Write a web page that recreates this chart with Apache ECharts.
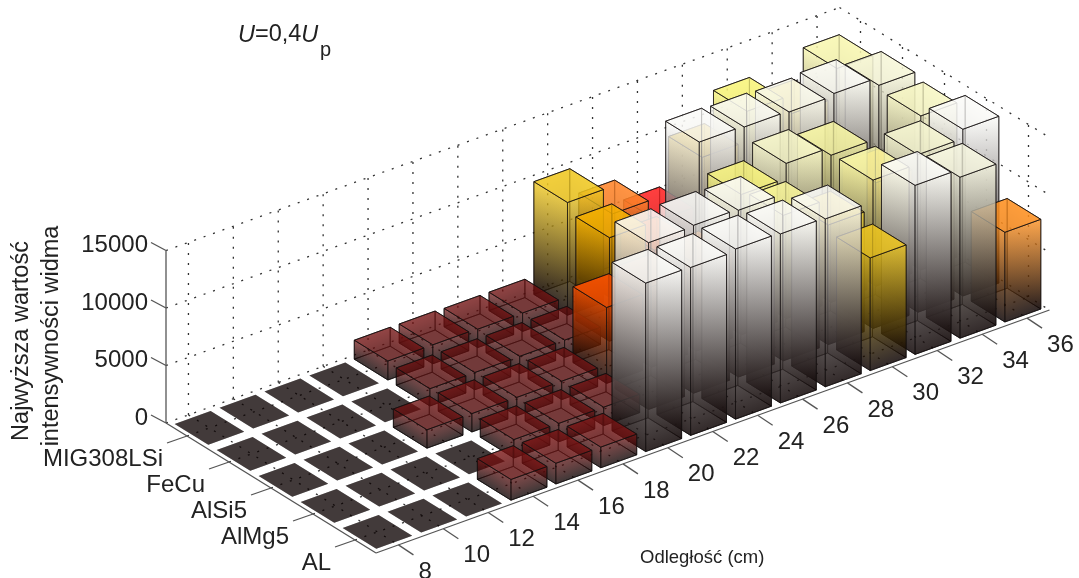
<!DOCTYPE html>
<html>
<head>
<meta charset="utf-8">
<style>
  html, body { margin: 0; padding: 0; background: #fff; }
  #chart { width: 1079px; height: 578px; }
</style>
<script src="https://cdn.jsdelivr.net/npm/echarts@6/dist/echarts.min.js"></script>
</head>
<body>
<div id="chart"></div>
<script>
const distances = [ 8, 10, 12, 14, 16, 18, 20, 22, 24, 26, 28, 30, 32, 34, 36 ];
const materials = [ 'MIG308LSi', 'FeCu', 'AlSi5', 'AlMg5', 'AL' ];
const zTicks = [ 0, 5000, 10000, 15000 ];

// values per material, same order as distances
const mig308lsi = [ 0, 0, 0, 0, 1650, 1650, 1600, 1600, 9800, 7400, 5400, 9500, 12100, 10500, 13000 ];
const fecu = [ 0, 0, 0, 0, 1500, 1500, 1500, 1500, 9000, 6500, 14500, 14400, 14300, 14500, 13800 ];
const alsi5 = [ 0, 0, 0, 1600, 1600, 1600, 1600, 6600, 7000, 7500, 12200, 13500, 12800, 9000, 13400 ];
const almg5 = [ 0, 0, 0, 0, 1600, 1600, 1600, 14500, 14600, 14500, 12650, 10400, 12900, 13700, 14500 ];
const al = [ 0, 0, 0, 1800, 1800, 1800, 14650, 14600, 14800, 14700, 14600, 9800, 14700, 14000, 7800 ];
const rows = [ mig308lsi, fecu, alsi5, almg5, al ];

// height -> top colour
const colorValues = [ 0, 1700, 5400, 6600, 7400, 9000, 9800, 12100, 13000, 13800, 14500, 15000 ];
const colorStops = [ '#0a0000', '#761010', '#ff2020', '#ff5000', '#ff8428', '#f5b000', '#f0c820', '#f8f478', '#f8f6b0', '#f6f6d8', '#fbfbf8', '#fbfbf8' ];

// view: floor corner at the z axis, and the screen step of one cell along each floor direction
const originX = 166, originY = 423;
const stepU = [ 44.9, -16.2 ];
const stepV = [ 42, 26 ];
const barHalf = 0.4;
const gridLeft = 0, gridTop = 100, gridHeight = 172.5;
const gridWidth = stepU[ 0 ] * distances.length;

function topColor ( v )
{
  for ( let k = 1; k < colorValues.length; k++ ) {
    if ( v <= colorValues[ k ] ) {
      let t = ( v - colorValues[ k - 1 ] ) / ( colorValues[ k ] - colorValues[ k - 1 ] );
      return echarts.color.lerp( t, [ colorStops[ k - 1 ], colorStops[ k ] ] );
    }
  }
  return colorStops[ colorStops.length - 1 ];
}

// i: fractional column position, j: fractional row position, z: value
function project ( api, i, j, z )
{
  let p = api.coord( [ 0, z ] );
  let u = i + 0.5;
  return [
    originX + u * stepU[ 0 ] + j * stepV[ 0 ],
    originY + u * stepU[ 1 ] + j * stepV[ 1 ] - ( gridTop + gridHeight - p[ 1 ] )
  ];
}

function rgba ( c, a )
{
  return echarts.color.modifyAlpha( c, a );
}

// side face with the shade running from the top edge down to black
function sideFace ( a, b, h, color, alpha, endAlpha )
{
  let dx = b[ 0 ] - a[ 0 ], dy = b[ 1 ] - a[ 1 ];
  let t = dx * h / ( dx * dx + dy * dy );
  let gx = -dy * t, gy = dx * t;
  return {
    type: 'polygon',
    shape: { points: [ a, b, [ b[ 0 ], b[ 1 ] + h ], [ a[ 0 ], a[ 1 ] + h ] ] },
    style: {
      fill: new echarts.graphic.LinearGradient( a[ 0 ], a[ 1 ], a[ 0 ] + gx, a[ 1 ] + gy, [
        { offset: 0, color: rgba( color, alpha ) },
        { offset: 1, color: 'rgba(10,0,0,' + endAlpha + ')' }
      ], true ),
      stroke: 'rgba(20,15,15,0.7)',
      lineWidth: 1
    }
  };
}

function renderBar ( params, api )
{
  let i = api.value( 0 ), j = api.value( 1 ), v = api.value( 2 );
  let c = topColor( v );
  let tall = Math.min( 1, v / 6000 );
  let sideAlpha = 0.42 + 0.12 * tall;
  let roofAlpha = 0.55 + 0.17 * tall;
  let endAlpha = 0.5 + 0.15 * tall;
  let cu = i, cv = j + 0.5;
  let corner = function ( su, sv, z ) { return project( api, cu + su * barHalf, cv + sv * barHalf, z ); };

  let floor = [ corner( -1, -1, 0 ), corner( 1, -1, 0 ), corner( 1, 1, 0 ), corner( -1, 1, 0 ) ];
  let roof = [ corner( -1, -1, v ), corner( 1, -1, v ), corner( 1, 1, v ), corner( -1, 1, v ) ];
  let h = floor[ 0 ][ 1 ] - roof[ 0 ][ 1 ];
  let kids = [];

  kids.push( { type: 'polygon', shape: { points: floor }, style: { fill: 'rgba(10,0,0,0.52)', stroke: v > 0 ? 'rgba(20,15,15,0.7)' : null, lineWidth: 1 } } );
  if ( v > 0 ) {
    kids.push( sideFace( roof[ 0 ], roof[ 1 ], h, c, sideAlpha, endAlpha ) );
    kids.push( sideFace( roof[ 0 ], roof[ 3 ], h, c, sideAlpha, endAlpha ) );
    kids.push( sideFace( roof[ 1 ], roof[ 2 ], h, c, sideAlpha, endAlpha ) );
    kids.push( sideFace( roof[ 3 ], roof[ 2 ], h, c, sideAlpha, endAlpha ) );
  }
  kids.push( { type: 'polygon', shape: { points: roof }, style: { fill: rgba( c, v > 0 ? roofAlpha : 0.52 ), stroke: v > 0 ? 'rgba(20,15,15,0.85)' : null, lineWidth: 1 } } );
  return { type: 'group', children: kids };
}

function dotted ( a, b )
{
  return {
    type: 'line',
    shape: { x1: a[ 0 ], y1: a[ 1 ], x2: b[ 0 ], y2: b[ 1 ] },
    style: { stroke: '#333', lineWidth: 1.3, lineDash: [ 2, 8 ] }
  };
}

function solid ( a, b, color )
{
  return {
    type: 'line',
    shape: { x1: a[ 0 ], y1: a[ 1 ], x2: b[ 0 ], y2: b[ 1 ] },
    style: { stroke: color || '#555', lineWidth: 1.3 }
  };
}

function label ( text, x, y, align )
{
  return {
    type: 'text',
    x: x, y: y,
    style: { text: text, fill: '#222', font: '24px "Liberation Sans"', textAlign: align, textVerticalAlign: 'middle' }
  };
}

function renderFrame ( params, api )
{
  let kids = [];
  let nu = distances.length, nv = materials.length;
  let zTop = zTicks[ zTicks.length - 1 ];

  // floor and walls
  distances.forEach( function ( d, i )
  {
    kids.push( dotted( project( api, i, 0, 0 ), project( api, i, nv, 0 ) ) );
    kids.push( dotted( project( api, i, 0, 0 ), project( api, i, 0, zTop ) ) );
  } );
  materials.forEach( function ( m, j )
  {
    kids.push( dotted( project( api, -0.5, j + 0.5, 0 ), project( api, nu - 0.5, j + 0.5, 0 ) ) );
    kids.push( dotted( project( api, nu - 0.5, j + 0.5, 0 ), project( api, nu - 0.5, j + 0.5, zTop ) ) );
  } );
  zTicks.forEach( function ( z )
  {
    kids.push( dotted( project( api, -0.5, 0, z ), project( api, nu - 0.5, 0, z ) ) );
    kids.push( dotted( project( api, nu - 0.5, 0, z ), project( api, nu - 0.5, nv, z ) ) );
  } );

  // axis lines
  let left = project( api, -0.5, 0, 0 );
  let front = project( api, -0.5, nv, 0 );
  let right = project( api, nu - 0.5, nv, 0 );
  kids.push( solid( left, project( api, -0.5, 0, zTop ) ) );
  kids.push( solid( left, front ) );
  kids.push( solid( front, right ) );

  // ticks and tick labels
  zTicks.forEach( function ( z )
  {
    let p = project( api, -0.5, 0, z );
    kids.push( solid( p, [ p[ 0 ] - 15, p[ 1 ] - 8 ] ) );
    kids.push( label( String( z ), p[ 0 ] - 18, p[ 1 ] - 5, 'right' ) );
  } );
  materials.forEach( function ( m, j )
  {
    let p = project( api, -0.5, j + 0.5, 0 );
    kids.push( solid( p, [ p[ 0 ] - 20, p[ 1 ] + 7 ] ) );
    kids.push( label( m, p[ 0 ] - 24, p[ 1 ] + 23, 'right' ) );
  } );
  distances.forEach( function ( d, i )
  {
    let p = project( api, i, nv, 0 );
    kids.push( solid( p, [ p[ 0 ] + 15, p[ 1 ] + 10 ] ) );
    kids.push( label( String( d ), p[ 0 ] + 20, p[ 1 ] + 27, 'left' ) );
  } );
  return { type: 'group', children: kids };
}

// back cells first so nearer bars paint over them
let barData = [];
rows.forEach( function ( row, j )
{
  for ( let i = row.length - 1; i >= 0; i-- ) {
    barData.push( [ i, j, row[ i ] ] );
  }
} );

let myChart = echarts.init( document.getElementById( 'chart' ) );
let option = {
  animation: false,
  backgroundColor: '#fff',
  grid: { left: gridLeft, top: gridTop, width: gridWidth, height: gridHeight },
  xAxis: { type: 'category', data: distances, show: false },
  yAxis: { type: 'value', min: 0, max: 15000, interval: 5000, show: false },
  graphic: [
    {
      type: 'text', x: 238, y: 35,
      style: {
        text: '{i|U}=0,4{i|U}',
        textVerticalAlign: 'middle',
        fill: '#222',
        font: '23.5px "Liberation Sans"',
        rich: { i: { fontStyle: 'italic', fontSize: 23.5, fontFamily: 'Liberation Sans', fill: '#222' } }
      }
    },
    { type: 'text', x: 320, y: 50, style: { text: 'p', fill: '#222', font: '20px "Liberation Sans"', textVerticalAlign: 'middle' } },
    { type: 'text', x: 22, y: 341, rotation: Math.PI / 2, style: { text: 'Najwyższa wartość', fill: '#222', font: '23.5px "Liberation Sans"', textAlign: 'center', textVerticalAlign: 'middle' } },
    { type: 'text', x: 52, y: 336, rotation: Math.PI / 2, style: { text: 'intensywności widma', fill: '#222', font: '23.5px "Liberation Sans"', textAlign: 'center', textVerticalAlign: 'middle' } },
    { type: 'text', x: 640, y: 558, style: { text: 'Odległość (cm)', fill: '#222', font: '18.5px "Liberation Sans"', textVerticalAlign: 'middle' } }
  ],
  series: [
    {
      type: 'custom',
      name: 'frame',
      silent: true,
      z: 1,
      coordinateSystem: 'cartesian2d',
      renderItem: renderFrame,
      data: [ [ 0, 0 ] ],
      clip: false
    },
    {
      type: 'custom',
      name: 'bars',
      silent: true,
      z: 2,
      coordinateSystem: 'cartesian2d',
      renderItem: renderBar,
      encode: { x: 0, y: 2 },
      data: barData,
      clip: false
    }
  ]
};
myChart.setOption( option );
</script>
</body>
</html>
